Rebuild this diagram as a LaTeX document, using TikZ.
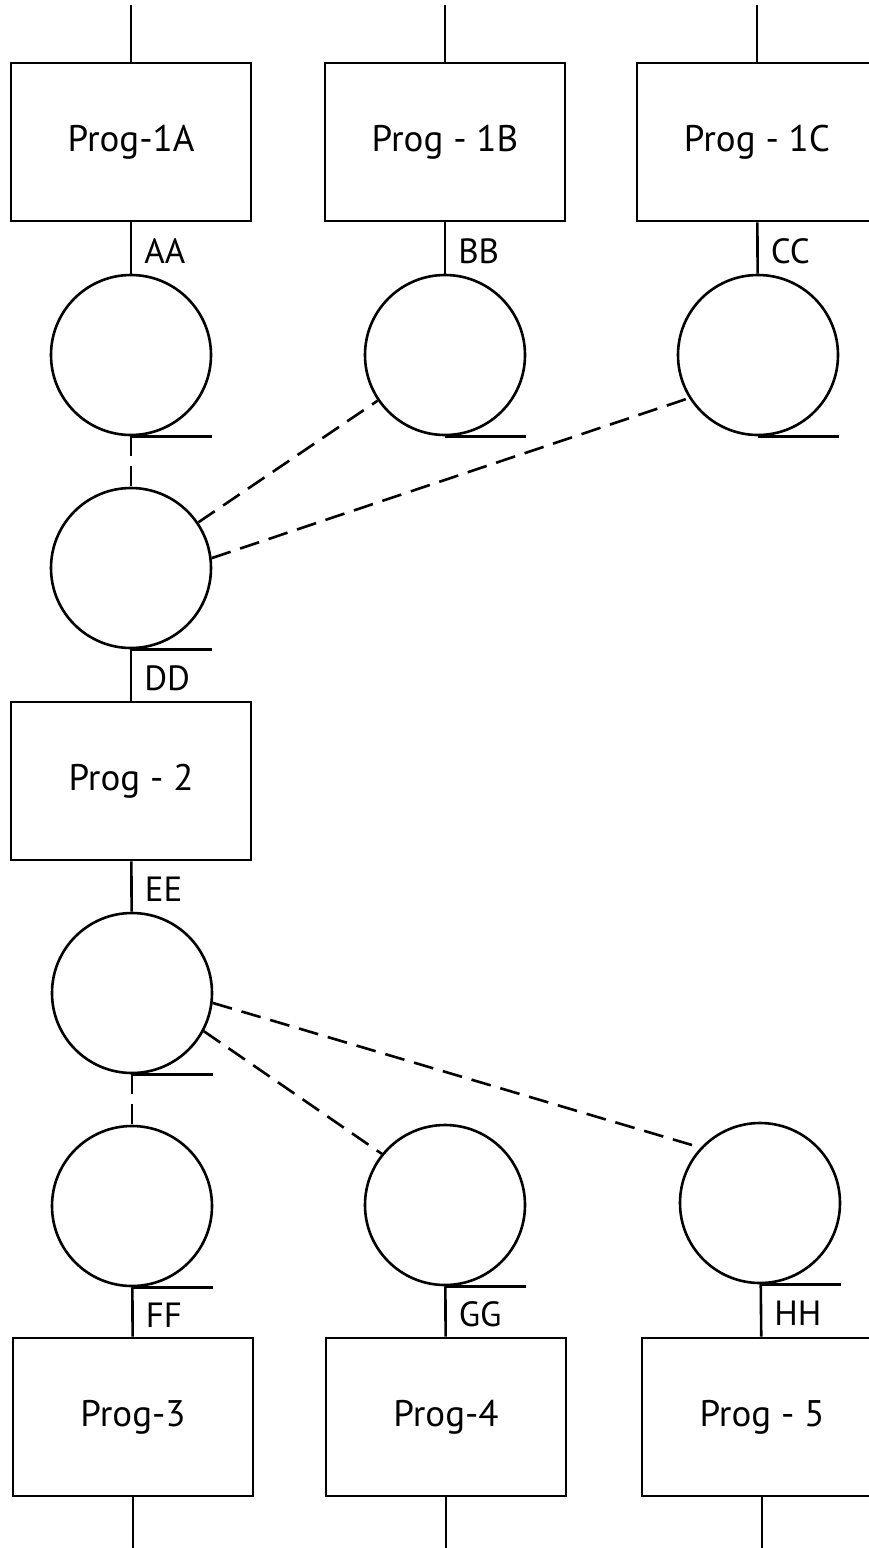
\documentclass[tikz,border=0pt]{standalone}
\usepackage{fontspec}
\setmainfont{PT Sans}

\begin{document}
\begin{tikzpicture}[
  x=1pt,
  y=-1pt,
  line width=2.6pt,
  prog/.style={
    rectangle,
    draw,
    minimum width=240pt,
    minimum height=158pt,
    font=\fontsize{37}{44}\selectfont
  },
  store/.style={
    circle,
    draw,
    inner sep=0pt,
    minimum size=160pt
  },
  tag/.style={
    right,
    inner sep=0pt,
    xshift=12pt,
    yshift=-3pt,
    font=\fontsize{35}{42}\selectfont
  },
  link/.style={
    dash pattern=on 20pt off 10pt
  }
]
\useasboundingbox (0,0) rectangle (869,1548);
% programs and stores
\node[prog] (p1a) at (131,142) {Prog-1A};
\node[prog] (p1b) at (445,142) {Prog - 1B};
\node[prog] (p1c) at (757,142) {Prog - 1C};
\node[store] (sa) at (131,355) {};
\node[store] (sb) at (445,355) {};
\node[store] (sc) at (758,355) {};
\node[store] (sd) at (131,568) {};
\node[prog] (p2) at (131,781) {Prog - 2};
\node[store] (se) at (132,993) {};
\node[store] (sf) at (132,1206) {};
\node[store] (sg) at (445,1205) {};
\node[store] (sh) at (760,1203) {};
\node[prog] (p3) at (133,1417) {Prog-3};
\node[prog] (p4) at (446,1417) {Prog-4};
\node[prog] (p5) at (762,1417) {Prog - 5};
% free ends
\coordinate (ta) at (131,5);
\coordinate (tb) at (445,5);
\coordinate (tc) at (757,5);
\coordinate (bf) at (133,1548);
\coordinate (bg) at (446,1548);
\coordinate (bh) at (762,1548);
% tangent lines under the stores
\foreach \s in {sa,sb,sc,sd,se,sf,sg,sh}
  \draw (\s.south) -- (\s.south -| \s.east);
% data flows
\draw (ta) -- (p1a);
\draw (tb) -- (p1b);
\draw (tc) -- (p1c);
\draw (p1a) -- node[tag] {AA} (sa);
\draw (p1b) -- node[tag] {BB} (sb);
\draw (p1c) -- node[tag] {CC} (sc);
\draw (sd) -- node[tag] {DD} (p2);
\draw (p2) -- node[tag] {EE} (se);
\draw (sf) -- node[tag] {FF} (p3);
\draw (sg) -- node[tag] {GG} (p4);
\draw (sh) -- node[tag] {HH} (p5);
\draw (p3) -- (bf);
\draw (p4) -- (bg);
\draw (p5) -- (bh);
% dashed links
\draw[link] (sa) -- (sd);
\draw[link] (sd) -- (sb);
\draw[link] (sd.7) -- (sc.212);
\draw[link] (se) -- (sf);
\draw[link] (se.-28) -- (sg.141);
\draw[link] (se.-7) -- (sh.137);
\end{tikzpicture}
\end{document}
